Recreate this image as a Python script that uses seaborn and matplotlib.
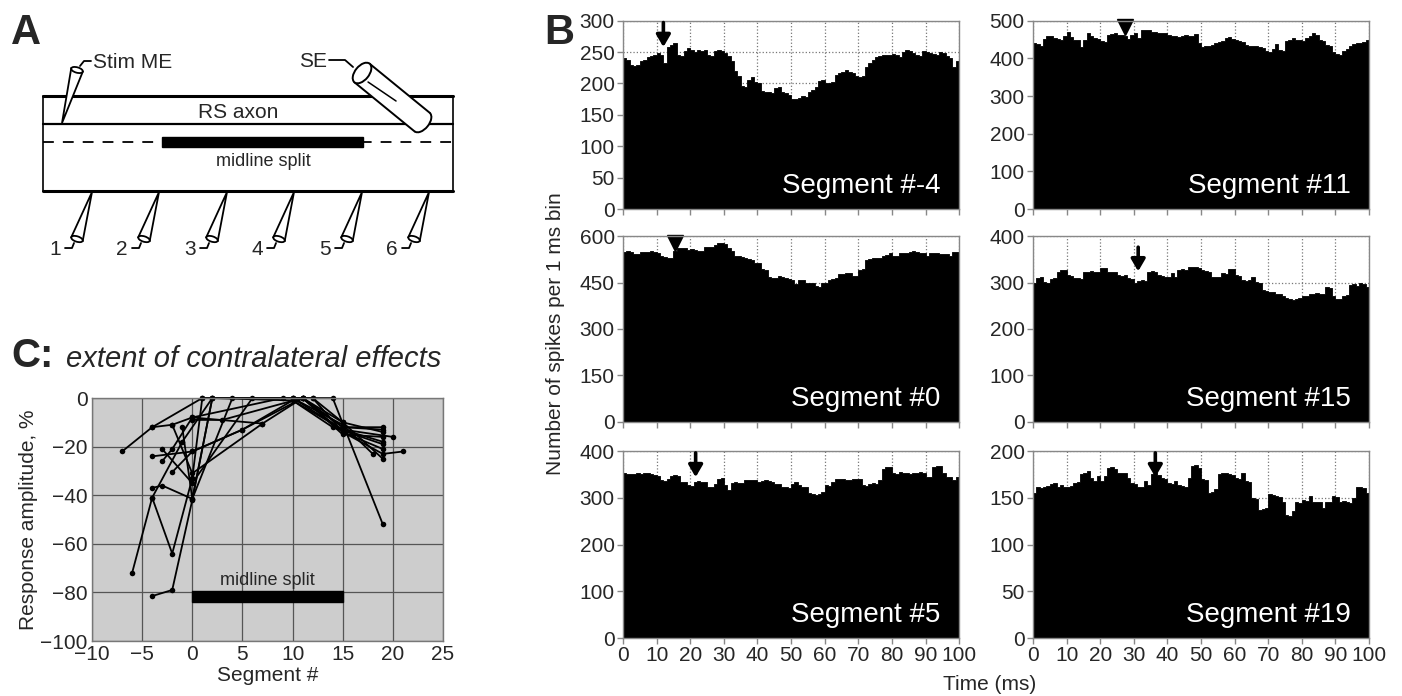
import numpy as np
import pandas as pd
import matplotlib
matplotlib.use('Agg')
import matplotlib.pyplot as plt
from matplotlib.patches import Ellipse, Arc, Polygon, Rectangle
import seaborn as sns

# ---- panel B: spike counts per 1 ms bin (0..99 ms) ----
time_ms = np.arange(100)

seg_m4 = [240, 238, 230, 228, 229, 235, 238, 242, 244, 246,
          248, 245, 232, 258, 262, 264, 246, 244, 252, 256,
          254, 250, 253, 251, 254, 246, 244, 252, 254, 252,
          249, 244, 236, 220, 212, 196, 195, 206, 210, 202,
          200, 188, 186, 187, 185, 192, 194, 186, 184, 182,
          176, 175, 177, 180, 178, 186, 190, 194, 204, 206,
          200, 200, 202, 214, 216, 218, 222, 218, 216, 212,
          210, 212, 226, 232, 238, 242, 244, 245, 246, 246,
          247, 245, 242, 250, 254, 252, 248, 246, 244, 252,
          250, 248, 247, 246, 250, 248, 244, 240, 226, 235]

seg_11 = [440, 438, 434, 452, 458, 460, 455, 452, 448, 458,
          470, 456, 450, 448, 430, 450, 466, 458, 455, 452,
          445, 443, 462, 465, 466, 463, 462, 460, 452, 462,
          466, 454, 475, 476, 474, 470, 471, 468, 466, 466,
          462, 460, 458, 456, 460, 462, 458, 460, 464, 440,
          430, 432, 433, 436, 440, 444, 446, 454, 456, 452,
          448, 446, 444, 436, 434, 433, 432, 430, 428, 420,
          416, 426, 438, 422, 420, 446, 450, 453, 448, 448,
          446, 455, 460, 466, 462, 448, 446, 436, 432, 418,
          412, 408, 420, 426, 434, 438, 440, 440, 444, 448]

seg_0 = [550, 552, 550, 542, 543, 548, 549, 550, 552, 548,
         545, 536, 532, 528, 530, 552, 560, 562, 560, 556,
         557, 555, 553, 552, 564, 565, 563, 572, 577, 576,
         575, 562, 552, 536, 534, 533, 528, 526, 524, 514,
         512, 494, 490, 468, 466, 464, 470, 468, 466, 460,
         458, 444, 459, 458, 448, 450, 447, 440, 437, 448,
         447, 458, 462, 466, 476, 478, 480, 481, 470, 471,
         490, 492, 524, 526, 529, 530, 528, 534, 540, 545,
         535, 534, 545, 546, 545, 550, 551, 550, 545, 546,
         535, 545, 546, 545, 542, 543, 541, 534, 548, 547]

seg_15 = [298, 310, 312, 302, 300, 308, 309, 322, 326, 326,
          316, 315, 310, 309, 308, 322, 323, 324, 322, 323,
          332, 331, 322, 323, 322, 316, 315, 316, 309, 308,
          298, 303, 305, 304, 322, 324, 323, 316, 315, 312,
          311, 320, 312, 326, 328, 327, 333, 334, 333, 332,
          327, 325, 322, 312, 311, 312, 320, 319, 330, 329,
          316, 315, 305, 304, 306, 312, 301, 300, 284, 282,
          280, 279, 276, 275, 270, 266, 264, 262, 265, 266,
          272, 271, 276, 275, 277, 276, 275, 290, 289, 272,
          265, 264, 272, 273, 294, 296, 293, 298, 297, 290]

seg_5 = [352, 350, 351, 350, 352, 351, 353, 352, 351, 348,
         347, 337, 336, 341, 347, 348, 347, 334, 333, 327,
         326, 334, 335, 334, 333, 323, 324, 330, 341, 342,
         327, 316, 332, 333, 332, 331, 337, 338, 339, 338,
         334, 336, 337, 336, 334, 330, 329, 323, 322, 320,
         330, 334, 327, 323, 322, 310, 308, 306, 307, 313,
         327, 326, 334, 341, 340, 341, 337, 339, 340, 341,
         341, 327, 326, 330, 331, 330, 337, 362, 365, 366,
         352, 351, 355, 354, 352, 351, 352, 353, 355, 354,
         345, 344, 366, 369, 368, 352, 345, 344, 337, 345]

seg_19 = [155, 161, 160, 162, 163, 165, 166, 162, 164, 162,
          161, 163, 166, 167, 175, 176, 179, 171, 168, 173,
          168, 173, 182, 183, 181, 177, 176, 177, 171, 166,
          165, 162, 161, 168, 164, 175, 176, 174, 171, 170,
          166, 165, 168, 164, 163, 161, 171, 184, 185, 182,
          170, 169, 155, 156, 159, 175, 177, 176, 175, 174,
          171, 170, 177, 168, 167, 150, 149, 137, 138, 139,
          154, 153, 152, 151, 145, 132, 131, 136, 145, 144,
          148, 147, 152, 146, 145, 146, 139, 146, 145, 152,
          151, 146, 147, 145, 144, 150, 162, 161, 160, 155]

panel_names = ['Segment #-4', 'Segment #11', 'Segment #0',
               'Segment #15', 'Segment #5', 'Segment #19']
panel_counts = [seg_m4, seg_11, seg_0, seg_15, seg_5, seg_19]
panel_ymax = [300, 500, 600, 400, 400, 200]
panel_ystep = [50, 100, 150, 100, 100, 50]
marker_ms = [12, 27.5, 15.5, 31.3, 21.6, 36.4]
marker_kind = ['arrow', 'tri', 'tri', 'arrow', 'arrow', 'arrow']

# ---- panel C: response amplitude vs segment, one list per recording ----
c_seg = [[-7, -4, 1, 11, 15, 19],
         [-6, -4, -1, 2, 12, 15, 19],
         [-4, -2, 0, 2, 10, 15, 20],
         [-4, -2, 0, 7],
         [-4, 0, 5, 11, 15, 19, 21],
         [-4, -3, 0, 4, 10, 15, 18],
         [-4, -2, 0, 1, 11, 15, 19],
         [-3, 0, 6, 10, 14, 19],
         [-3, -2, 0, 9, 12, 15, 19],
         [-2, 0, 5, 10, 15, 19],
         [-2, 0, 7, 11, 15, 19],
         [-1, 0, 2, 10, 14, 19],
         [0, 3, 11, 15, 19]]
c_amp = [[-22, -12, 0, 0, -12, -13],
         [-72, -41, -18, 0, 0, -14, -21],
         [-81.5, -79, -42, 0, 0, -13, -16],
         [-12, -11, -8, -10.5],
         [-24, -22, -13, 0, -14, -23, -22],
         [-37, -36, -41.5, 0, 0, -11, -23],
         [-41, -64, -33, 0, 0, -12, -12],
         [-21, -35, 0, 0, 0, -52],
         [-26, -21, -8, 0, 0, -10, -25],
         [-30.5, -22, -13, -1, -13, -18],
         [-11, -31, -10.5, 0, -10, -14],
         [-12, -41.5, 0, -1, -12, -19],
         [-9, -9, 0, -15, -16]]
split_start, split_end = 0, 15

sns.set_theme(style='ticks')
plt.rcParams['font.family'] = ['Liberation Sans', 'DejaVu Sans']

fig = plt.figure(figsize=(14.02, 6.96), dpi=100)

# ================= panel B =================
col_left = [0.4444, 0.7368]
rows = [(0.6997, 0.2706), (0.3937, 0.2672), (0.0833, 0.2687)]
for i in range(6):
    r, c = divmod(i, 2)
    ax = fig.add_axes([col_left[c], rows[r][0], 0.2397, rows[r][1]])
    dfb = pd.DataFrame({'t': time_ms + 0.5, 'n': panel_counts[i]})
    sns.histplot(data=dfb, x='t', weights='n', bins=100, binrange=(0, 100),
                 element='step', fill=True, color='black', alpha=1, linewidth=0.6, ax=ax)
    ymax = panel_ymax[i]
    ax.set_xlim(0, 100)
    ax.set_ylim(0, ymax)
    ax.set_xticks(np.arange(0, 101, 10))
    ax.set_yticks(np.arange(0, ymax + 1, panel_ystep[i]))
    ax.grid(True, linestyle=':', color='#777777', lw=0.9)
    ax.set_axisbelow(True)
    ax.set_xlabel('')
    ax.set_ylabel('')
    for sp in ax.spines.values():
        sp.set_visible(True)
        sp.set_color('#888888')
        sp.set_linewidth(1)
    ax.tick_params(direction='out', length=4, width=1, color='#888888',
                   labelsize=15, pad=2)
    if r < 2:
        ax.set_xticklabels([])
    ax.text(0.945, 0.055, panel_names[i], transform=ax.transAxes, ha='right',
            va='bottom', color='white', fontsize=20)
    t = marker_ms[i]
    if marker_kind[i] == 'arrow':
        top = 0.99 if i != 3 else 0.94
        tip = 0.86 if i != 3 else 0.81
        ax.annotate('', xy=(t, tip * ymax), xytext=(t, top * ymax),
                    arrowprops=dict(arrowstyle='-|>,head_length=0.6,head_width=0.35',
                                    color='black', lw=2.6, mutation_scale=12,
                                    shrinkA=0, shrinkB=0))
    else:
        ax.plot([t], [0.965 * ymax], marker='v', ms=11, color='black', clip_on=False)

fig.text(0.396, 0.52, 'Number of spikes per 1 ms bin', rotation=90,
         ha='center', va='center', fontsize=15)
fig.text(0.706, 0.017, 'Time (ms)', ha='center', va='center', fontsize=15)

# ================= panel C =================
rec, xs, ys = [], [], []
for k in range(len(c_seg)):
    rec += [k] * len(c_seg[k])
    xs += c_seg[k]
    ys += c_amp[k]
dfc = pd.DataFrame({'rec': rec, 'seg': xs, 'amp': ys})

axc = fig.add_axes([0.0656, 0.079, 0.2504, 0.3491])
axc.set_facecolor('#cdcdcd')
sns.lineplot(data=dfc, x='seg', y='amp', units='rec', estimator=None, sort=False,
             color='black', lw=1.3, marker='o', markersize=4, markeredgewidth=0,
             ax=axc, clip_on=False)
axc.set_xlim(-10, 25)
axc.set_ylim(-100, 0)
axc.set_xticks(np.arange(-10, 26, 5))
axc.set_yticks(np.arange(-100, 1, 20))
axc.grid(True, color='#555555', lw=0.9)
axc.set_axisbelow(True)
for sp in axc.spines.values():
    sp.set_color('#777777')
    sp.set_linewidth(1)
axc.tick_params(length=0, labelsize=15, pad=3)
axc.set_xlabel('Segment #', fontsize=15, labelpad=1)
axc.set_ylabel('Response amplitude, %', fontsize=15, labelpad=2)
axc.add_patch(Rectangle((split_start, -84), split_end - split_start, 4.5,
                        color='black', zorder=3))
axc.text((split_start + split_end) / 2, -75, 'midline split', ha='center',
         va='center', fontsize=13)

fig.text(0.008, 0.473, 'C:', fontsize=29, fontweight='bold', va='baseline')
fig.text(0.047, 0.473, 'extent of contralateral effects', fontsize=21,
         style='italic', va='baseline')

# ================= panel A (schematic) =================
axa = fig.add_axes([0, 0.5833, 0.3424, 0.4167])
axa.set_xlim(0, 480)
axa.set_ylim(290, 0)
axa.axis('off')


def pipette(ax, tip, base, r):
    tip = np.array(tip, float)
    base = np.array(base, float)
    d = (base - tip) / np.linalg.norm(base - tip)
    p = np.array([-d[1], d[0]])
    ax.add_patch(Polygon([tip, base + r * p, base - r * p], closed=True,
                         facecolor='white', edgecolor='black', lw=1.3, zorder=3))
    ang = np.degrees(np.arctan2(p[1], p[0]))
    ax.add_patch(Ellipse(base, 2 * r, r * 0.9, angle=ang, facecolor='white',
                         edgecolor='black', lw=1.3, zorder=4))


axa.plot([43, 453], [96, 96], color='black', lw=2.2)
axa.plot([43, 453], [124, 124], color='black', lw=1.6)
axa.plot([43, 453], [142, 142], color='black', lw=1.3, dashes=(6, 5))
axa.plot([43, 453], [191, 191], color='black', lw=2.2)
axa.plot([43, 43], [96, 191], color='black', lw=1.2)
axa.plot([453, 453], [96, 191], color='black', lw=1.2)
axa.add_patch(Rectangle((162, 137), 201, 10, color='black'))
axa.text(238, 112, 'RS axon', ha='center', va='center', fontsize=15)
axa.text(263, 161, 'midline split', ha='center', va='center', fontsize=13)

for n, xt in enumerate([92, 159, 227, 294, 362, 429]):
    pipette(axa, (xt, 192), (xt - 15, 239), 6)
    axa.plot([xt - 27, xt - 20, xt - 18], [248, 248, 243], color='black', lw=1.3)
    axa.text(xt - 37, 249, str(n + 1), ha='center', va='center', fontsize=15)

pipette(axa, (62, 123), (77, 70), 6)
axa.plot([80, 84, 91], [66, 61, 61], color='black', lw=1.3)
axa.text(93, 62, 'Stim ME', ha='left', va='center', fontsize=15)

# SE suction electrode (cylinder)
c0 = np.array([362.0, 73.0])
c1 = np.array([422.0, 122.0])
u = (c1 - c0) / np.linalg.norm(c1 - c0)
nv = np.array([-u[1], u[0]])
rad = 12
angn = np.degrees(np.arctan2(nv[1], nv[0]))
axa.add_patch(Polygon([c0 + rad * nv, c1 + rad * nv, c1 - rad * nv, c0 - rad * nv],
                      closed=True, facecolor='white', edgecolor='none', zorder=3))
axa.add_patch(Ellipse(c1, 2 * rad, 14, angle=angn, facecolor='white',
                      edgecolor='none', zorder=3))
for s in (1, -1):
    a, b = c0 + s * rad * nv, c1 + s * rad * nv
    axa.plot([a[0], b[0]], [a[1], b[1]], color='black', lw=1.4, zorder=4)
axa.add_patch(Arc(c1, 2 * rad, 14, angle=angn, theta1=180, theta2=360,
                  color='black', lw=1.4, zorder=4))
axa.add_patch(Ellipse(c0, 2 * rad, 14, angle=angn, facecolor='white',
                      edgecolor='black', lw=1.4, zorder=5))
axa.plot([368, 396], [82, 101], color='black', lw=1.1, zorder=4)
axa.plot([329, 345, 353], [60, 60, 67], color='black', lw=1.3, zorder=4)
axa.text(327, 61, 'SE', ha='right', va='center', fontsize=15)

fig.text(0.008, 0.953, 'A', fontsize=30, fontweight='bold', va='center')
fig.text(0.388, 0.953, 'B', fontsize=30, fontweight='bold', va='center')

fig.savefig('out.png', dpi=100)
